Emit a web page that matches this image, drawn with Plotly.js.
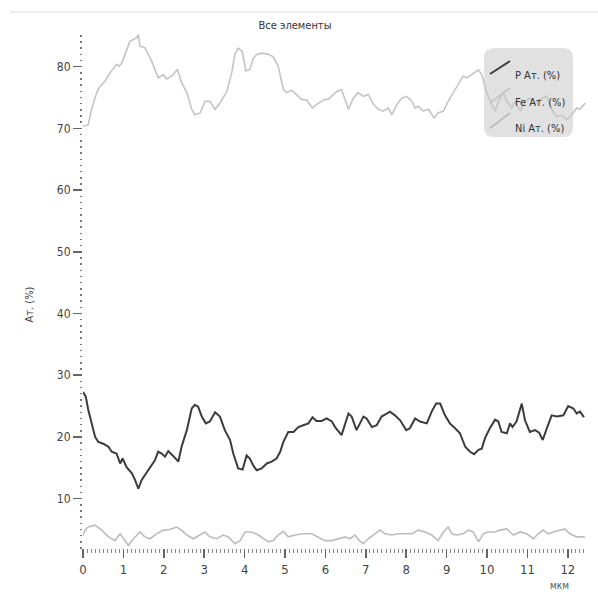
<!DOCTYPE html>
<html>
<head>
<meta charset="utf-8">
<script src="https://cdn.plot.ly/plotly-3.0.1.min.js"></script>
<style>html,body{margin:0;padding:0;background:#fff;}#chart{width:598px;height:597px;}</style>
</head>
<body>
<div id="chart"></div>
<script>
// Fe Ат. (%)
const feX = [0.00,0.13,0.21,0.34,0.42,0.54,0.67,0.75,0.83,0.90,0.96,1.04,1.16,1.25,1.33,1.37,1.41,1.53,1.62,1.70,1.78,1.86,1.99,2.07,2.20,2.34,2.44,2.57,2.69,2.77,2.90,3.02,3.14,3.27,3.39,3.56,3.68,3.76,3.84,3.94,4.03,4.13,4.22,4.30,4.42,4.59,4.71,4.83,4.96,5.04,5.17,5.29,5.41,5.54,5.68,5.78,5.91,5.99,6.07,6.20,6.28,6.40,6.57,6.69,6.81,6.94,7.06,7.19,7.31,7.43,7.56,7.64,7.77,7.89,8.01,8.14,8.22,8.30,8.42,8.55,8.69,8.79,8.92,9.04,9.17,9.29,9.41,9.50,9.62,9.79,9.87,9.99,10.12,10.20,10.32,10.40,10.49,10.61,10.69,10.82,10.94,11.06,11.19,11.31,11.48,11.60,11.73,11.85,11.97,12.10,12.22,12.30,12.43];
const feY = [70.3,70.6,73.1,75.8,76.8,77.6,79.0,79.8,80.4,80.1,80.6,82.0,84.1,84.4,84.7,85.2,83.3,83.1,82.0,80.9,79.5,78.2,78.7,78.0,78.5,79.6,77.4,75.8,73.1,72.2,72.5,74.4,74.4,73.1,74.1,76.0,79.0,82.0,83.0,82.5,79.3,79.6,81.4,82.0,82.2,82.0,81.6,80.1,76.3,75.8,76.2,75.5,74.7,74.6,73.3,73.9,74.4,74.7,74.7,75.5,76.0,76.3,73.1,74.9,75.8,75.2,75.5,73.9,73.1,72.8,73.3,72.2,73.9,74.9,75.2,74.4,73.3,73.6,72.8,73.1,71.7,72.5,72.8,74.4,75.8,77.1,78.5,78.2,78.7,79.5,78.7,75.8,73.9,72.8,74.9,75.8,74.4,73.3,74.4,72.8,74.4,74.9,73.9,74.7,75.2,73.1,71.9,72.2,71.4,72.2,73.3,73.1,74.1];

// P Ат. (%)
const pX = [0.00,0.07,0.13,0.21,0.30,0.38,0.50,0.63,0.71,0.83,0.92,0.98,1.08,1.21,1.29,1.37,1.45,1.53,1.66,1.78,1.86,1.95,2.03,2.11,2.22,2.36,2.44,2.57,2.69,2.77,2.85,2.94,3.04,3.14,3.27,3.39,3.51,3.64,3.72,3.84,3.95,4.05,4.13,4.22,4.30,4.42,4.55,4.67,4.79,4.88,4.96,5.08,5.21,5.33,5.45,5.58,5.68,5.78,5.91,6.03,6.16,6.24,6.40,6.57,6.65,6.77,6.94,7.02,7.15,7.27,7.39,7.52,7.60,7.72,7.85,8.00,8.09,8.22,8.34,8.51,8.63,8.74,8.84,8.96,9.08,9.21,9.33,9.46,9.58,9.68,9.79,9.87,9.95,10.07,10.20,10.28,10.36,10.49,10.57,10.63,10.73,10.86,10.94,11.06,11.19,11.29,11.38,11.48,11.60,11.73,11.89,12.01,12.14,12.22,12.30,12.40];
const pY = [27.3,26.5,24.4,22.2,20.0,19.2,18.9,18.4,17.6,17.3,15.7,16.5,15.1,14.1,13.0,11.6,13.0,13.8,15.1,16.2,17.6,17.3,16.8,17.7,17.0,16.0,18.4,21.1,24.6,25.2,24.9,23.3,22.2,22.5,24.0,23.3,21.1,19.5,17.3,14.9,14.7,17.0,16.5,15.3,14.6,14.9,15.7,16.0,16.5,17.6,19.2,20.8,20.8,21.6,21.9,22.2,23.2,22.6,22.6,23.0,22.5,21.6,20.3,23.8,23.3,21.1,23.3,23.0,21.6,21.9,23.3,23.8,24.1,23.5,22.7,21.1,21.4,23.0,22.5,22.2,24.1,25.4,25.4,23.5,22.2,21.4,20.6,18.4,17.6,17.2,17.9,18.1,19.8,21.4,22.8,22.5,20.8,20.6,22.2,21.6,22.5,25.4,22.7,20.8,21.1,20.7,19.5,21.4,23.5,23.3,23.5,25.0,24.6,23.8,24.1,23.2];

// Ni Ат. (%)
const niX = [0.00,0.05,0.13,0.30,0.46,0.63,0.79,0.92,1.04,1.12,1.25,1.41,1.53,1.66,1.82,1.99,2.15,2.32,2.44,2.57,2.73,2.90,3.02,3.14,3.31,3.47,3.60,3.76,3.89,4.01,4.18,4.34,4.46,4.59,4.71,4.83,4.96,5.08,5.25,5.45,5.66,5.82,5.99,6.16,6.32,6.49,6.61,6.73,6.84,6.94,7.06,7.23,7.35,7.48,7.64,7.80,7.97,8.14,8.30,8.47,8.63,8.79,8.92,9.04,9.13,9.25,9.41,9.54,9.66,9.79,9.91,10.03,10.20,10.32,10.49,10.65,10.82,10.98,11.15,11.27,11.39,11.52,11.64,11.81,11.93,12.05,12.22,12.38,12.43];
const niY = [4.0,4.9,5.4,5.7,4.9,3.8,3.2,4.3,3.2,2.4,3.5,4.6,3.8,3.5,4.3,4.9,5.0,5.4,4.9,4.1,3.5,4.1,4.6,3.8,3.5,4.1,3.8,2.7,3.2,4.6,4.6,4.1,3.5,3.0,3.2,4.1,4.7,3.8,4.1,4.3,4.3,3.8,3.2,3.2,3.5,3.8,3.5,4.1,3.2,2.7,3.5,4.3,4.9,4.3,4.1,4.3,4.3,4.3,4.9,4.6,4.1,3.2,4.6,5.4,4.3,4.1,4.3,4.9,4.6,3.0,4.3,4.6,4.6,4.9,5.1,4.1,4.6,4.3,3.5,4.3,4.9,4.3,4.6,4.9,5.1,4.3,3.8,3.8,3.7];

const xTickVals = [0,1,2,3,4,5,6,7,8,9,10,11,12];
const yTickVals = [10,20,30,40,50,60,70,80];
const legendNames = ['P Ат. (%)', 'Fe Ат. (%)', 'Ni Ат. (%)'];
const titleText = 'Все элементы';
const yTitleText = 'Ат. (%)';
const xUnitText = 'мкм';

const cP = '#3c3c3c', cFe = '#c4c4c4', cNi = '#bcbcbc';
const fontFam = 'Liberation Sans Narrow, DejaVu Sans Condensed, Arial Narrow, sans-serif';

const traces = [
  {x: feX, y: feY, type: 'scatter', mode: 'lines', name: legendNames[1], line: {color: cFe, width: 1.6}},
  {x: pX, y: pY, type: 'scatter', mode: 'lines', name: legendNames[0], line: {color: cP, width: 2}},
  {x: niX, y: niY, type: 'scatter', mode: 'lines', name: legendNames[2], line: {color: cNi, width: 1.6}}
];

// legend geometry in paper coordinates
const L = 83, R = 586, T = 34, B = 548;
const px = v => (v - L) / (R - L);
const py = v => (B - v) / (B - T);
const bx0 = px(484), bx1 = px(573), by0 = py(137), by1 = py(48);
const rx = 10 / (R - L), ry = 10 / (B - T);
const roundPath = `M ${bx0+rx},${by1} L ${bx1-rx},${by1} Q ${bx1},${by1} ${bx1},${by1-ry} L ${bx1},${by0+ry} Q ${bx1},${by0} ${bx1-rx},${by0} L ${bx0+rx},${by0} Q ${bx0},${by0} ${bx0},${by0+ry} L ${bx0},${by1-ry} Q ${bx0},${by1} ${bx0+rx},${by1} Z`;

const legendRows = [
  {name: legendNames[0], color: cP, w: 2, y0: 74, y1: 61, ty: 67},
  {name: legendNames[1], color: cFe, w: 1.6, y0: 103, y1: 88, ty: 94},
  {name: legendNames[2], color: cNi, w: 1.6, y0: 128, y1: 113, ty: 120}
];

const shapes = [
  {type: 'line', xref: 'paper', yref: 'paper', x0: px(10), x1: px(598), y0: py(12), y1: py(12), line: {color: '#dcdcdc', width: 1}},
  {type: 'path', xref: 'paper', yref: 'paper', path: roundPath, fillcolor: 'rgba(200,200,200,0.55)', line: {width: 0}}
];
const annotations = [
  {xref: 'paper', yref: 'paper', x: px(20), y: py(305), text: yTitleText, textangle: -90, showarrow: false, font: {family: fontFam, size: 11, color: '#444'}},
  {xref: 'paper', yref: 'paper', x: px(571), y: py(593), text: xUnitText, showarrow: false, font: {family: fontFam, size: 10, color: '#555'}}
];
legendRows.forEach(r => {
  shapes.push({type: 'line', xref: 'paper', yref: 'paper', x0: px(490), x1: px(510), y0: py(r.y0), y1: py(r.y1), line: {color: r.color, width: r.w}});
  annotations.push({xref: 'paper', yref: 'paper', x: px(513), y: py(r.ty), xanchor: 'left', text: r.name, showarrow: false, font: {family: fontFam, size: 11, color: '#333'}});
});

const layout = {
  width: 598, height: 597,
  margin: {l: L, r: 598 - R, t: T, b: 597 - B},
  paper_bgcolor: '#fff', plot_bgcolor: '#fff',
  showlegend: false,
  title: {text: titleText, x: 295 / 598, xref: 'container', xanchor: 'center', y: 1 - 25 / 597, yref: 'container', yanchor: 'middle', font: {family: fontFam, size: 11, color: '#333'}},
  xaxis: {
    range: [0, 12.45], showgrid: false, zeroline: false, showline: false,
    tickvals: xTickVals, ticks: 'outside', ticklen: 9, tickwidth: 1.5, tickcolor: '#666',
    minor: {dtick: 0.1, ticks: 'outside', ticklen: 4, tickwidth: 1, tickcolor: '#888', showgrid: false},
    tickfont: {family: fontFam, size: 13, color: '#444'}
  },
  yaxis: {
    range: [2, 85.3], showgrid: false, zeroline: false, showline: false,
    tickvals: yTickVals, ticks: 'outside', ticklen: 9, tickwidth: 1.5, tickcolor: '#666',
    minor: {dtick: 1, ticks: 'outside', ticklen: 2, tickwidth: 1.5, tickcolor: '#777', showgrid: false},
    tickfont: {family: fontFam, size: 12, color: '#444'}
  },
  shapes: shapes,
  annotations: annotations
};

Plotly.newPlot('chart', traces, layout, {displayModeBar: false, staticPlot: true});
</script>
</body>
</html>
